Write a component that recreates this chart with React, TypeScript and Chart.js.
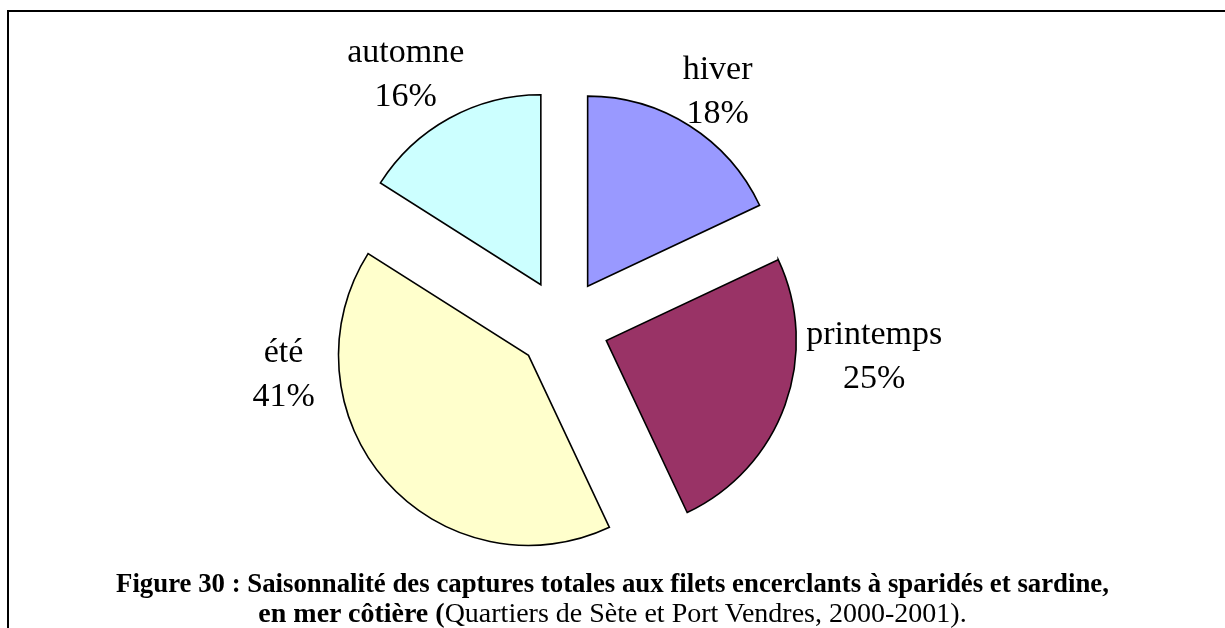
import React, { useEffect, useRef } from "react";
import { Chart, registerables } from "chart.js";

Chart.register(...registerables);

// ---- data ----
const seasons = ["hiver", "printemps", "été", "automne"];
const shares = [18, 25, 41, 16];
const sliceColors = ["#9999FF", "#993366", "#FFFFCC", "#CCFFFF"];

// ---- presentation ----
const RADIUS = 190;
const EXPLODE = 46;
const LABEL_LINE = 44;
// first-line baseline of each label, relative to its slice apex, in radius units
const labelPlacement: [number, number][] = [
  [0.684, -1.089],
  [1.41, 0.016],
  [-1.289, 0.032],
  [-0.711, -1.174],
];

const explodePlugin = {
  id: "explodeSlices",
  afterDatasetsUpdate(chart: any) {
    const meta = chart.getDatasetMeta(0);
    meta.data.forEach((arc: any) => {
      const mid = (arc.startAngle + arc.endAngle) / 2;
      arc.x += Math.cos(mid) * EXPLODE;
      arc.y += Math.sin(mid) * EXPLODE;
    });
  },
};

const labelPlugin = {
  id: "sliceLabels",
  afterDatasetsDraw(chart: any) {
    const ctx = chart.ctx;
    const meta = chart.getDatasetMeta(0);
    ctx.save();
    ctx.font = "34px 'Liberation Serif', 'Times New Roman', serif";
    ctx.fillStyle = "#000";
    ctx.textAlign = "center";
    ctx.textBaseline = "alphabetic";
    meta.data.forEach((arc: any, i: number) => {
      const r = arc.outerRadius;
      const [fx, fy] = labelPlacement[i];
      const x = arc.x + fx * r;
      const y = arc.y + fy * r;
      ctx.fillText(seasons[i], x, y);
      ctx.fillText(shares[i] + "%", x, y + LABEL_LINE);
    });
    ctx.restore();
  },
};

export default function App() {
  const canvasRef = useRef<HTMLCanvasElement | null>(null);

  useEffect(() => {
    if (!canvasRef.current) return;
    const chart = new Chart(canvasRef.current, {
      type: "pie",
      data: {
        labels: seasons,
        datasets: [
          {
            data: shares,
            backgroundColor: sliceColors,
            borderColor: "#000",
            borderWidth: 1.6,
            borderJoinStyle: "miter",
            radius: RADIUS,
          } as any,
        ],
      },
      options: {
        animation: false,
        responsive: false,
        events: [],
        layout: { padding: { left: 0, right: 99, top: 22, bottom: 0 } },
        plugins: {
          legend: { display: false },
          tooltip: { enabled: false },
          title: { display: false },
        },
      },
      plugins: [explodePlugin, labelPlugin],
    });
    return () => chart.destroy();
  }, []);

  return (
    <div
      style={{
        position: "absolute",
        left: 0,
        top: 0,
        width: 1225,
        height: 628,
        overflow: "hidden",
        background: "#fff",
        fontFamily: "'Liberation Serif', 'Times New Roman', serif",
      }}
    >
      <div
        style={{
          position: "absolute",
          left: 7,
          top: 10,
          right: 0,
          bottom: 0,
          borderLeft: "2px solid #000",
          borderTop: "2px solid #000",
        }}
      />
      <canvas
        ref={canvasRef}
        width={1225}
        height={628}
        style={{ position: "absolute", left: 0, top: 0, width: 1225, height: 628 }}
      />
      <div
        style={{
          position: "absolute",
          left: 0,
          top: 569,
          width: 1225,
          textAlign: "center",
          fontSize: 26.8,
          lineHeight: "29px",
          color: "#000",
          whiteSpace: "nowrap",
        }}
      >
        <div style={{ fontWeight: "bold" }}>
          Figure 30 : Saisonnalité des captures totales aux filets encerclants à sparidés et sardine,
        </div>
        <div style={{ fontSize: 28 }}>
          <span style={{ fontWeight: "bold" }}>en mer côtière (</span>
          Quartiers de Sète et Port Vendres, 2000-2001).
        </div>
      </div>
    </div>
  );
}
